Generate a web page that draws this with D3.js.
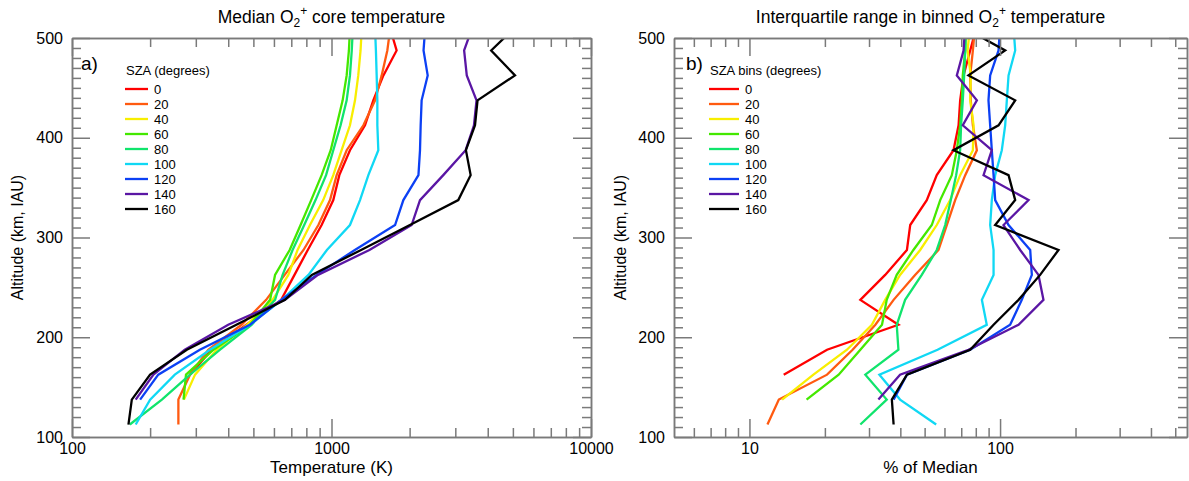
<!DOCTYPE html>
<html>
<head>
<meta charset="utf-8">
<script src="https://cdn.jsdelivr.net/npm/d3@7"></script>
<style>
  body { margin: 0; background: #fff; }
  text { font-family: "Liberation Sans", Arial, Helvetica, sans-serif; fill: #000; }
</style>
</head>
<body>
<svg id="chart" width="1189" height="481"></svg>
<script>
// altitude bin centres (km, IAU)
var altitude = [112.5, 137.5, 162.5, 187.5, 212.5, 237.5, 262.5, 287.5, 312.5,
  337.5, 362.5, 387.5, 412.5, 437.5, 462.5, 487.5, 512.5];
var szaBins = [0, 20, 40, 60, 80, 100, 120, 140, 160];
var colors = ['#ff0000', '#ff5a10', '#f8ee00', '#44e800', '#10e46c', '#10d8f4', '#0c40f4', '#5a16a4', '#000000'];

// a) median O2+ temperature (K)
var medT0   = [null, null, 285, 345, 470, 640, 720, 810, 916, 1016, 1072, 1178, 1346, 1449, 1585, 1782, 1670];
var medT20  = [257, 257, 285, 335, 450, 560, 660, 780, 890, 987, 1047, 1144, 1327, 1472, 1561, 1641, 1690];
var medT40  = [null, 270, 298, 361, 472, 593, 682, 740, 826, 929, 1016, 1094, 1178, 1232, 1268, 1294, 1310];
var medT60  = [null, 269, 275, 351, 485, 580, 606, 690, 760, 835, 916, 993, 1047, 1104, 1144, 1167, 1180];
var medT80  = [167, 222, 285, 372, 492, 606, 648, 708, 785, 868, 953, 1016, 1084, 1144, 1178, 1197, 1210];
var medT100 = [176, 200, 249, 340, 485, 643, 815, 960, 1178, 1288, 1387, 1515, 1502, 1502, 1493, 1483, 1470];
var medT120 = [null, 183, 215, 311, 485, 640, 877, 1230, 1758, 1892, 2163, 2193, 2206, 2225, 2348, 2263, 2300];
var medT140 = [null, 176, 206, 272, 400, 662, 887, 1400, 2036, 2193, 2696, 3288, 3540, 3621, 3321, 3244, 3510];
var medT160 = [165, 170, 200, 277, 430, 662, 840, 1300, 2005, 3080, 3437, 3296, 3573, 3654, 5094, 4124, 5190];

// b) interquartile range (% of median)
var iqr0   = [null, null, 13.7, 20.4, 39.3, 27.7, 34.8, 42.5, 43.8, 51.0, 55.9, 65.2, 68.3, 69.3, 71.5, 76.0, 80.8];
var iqr20  = [11.8, 13.1, 20.4, 25.8, 31.8, 37.6, 45.8, 56.8, 61.3, 66.2, 72.6, 80.8, 77.9, 76.4, 76.0, 77.9, 79.5];
var iqr40  = [null, 13.5, 18.0, 24.5, 30.8, 34.8, 39.9, 48.0, 55.9, 63.2, 69.3, 77.9, 78.4, 76.0, 76.4, 74.2, 76.0];
var iqr60  = [null, 16.9, 22.7, 27.7, 33.8, 35.3, 38.7, 45.1, 53.4, 57.7, 64.2, 67.2, 69.3, 70.4, 71.0, 72.6, 73.1];
var iqr80  = [27.7, 35.3, 29.0, 39.3, 38.7, 41.8, 48.7, 55.9, 60.4, 63.6, 66.8, 69.3, 69.9, 71.0, 71.9, 72.6, 73.1];
var iqr100 = [55.6, 39.9, 33.0, 56.3, 88.5, 84.6, 94.2, 94.2, 91.3, 92.7, 95.6, 101.6, 104.8, 106.4, 108.1, 114.9, 113];
var iqr120 = [null, 37.6, 42.5, 76.0, 109.7, 122.1, 133.9, 131.9, 108.1, 95.6, 94.2, 92.7, 91.3, 89.9, 91.3, 98.6, 100.1];
var iqr140 = [null, 32.7, 39.9, 74.8, 118.5, 149.0, 142.3, 120.3, 103.2, 129.9, 85.9, 92.7, 71.0, 80.8, 67.2, 71.5, 72.6];
var iqr160 = [37.6, 37.0, 42.5, 76.0, 94.2, 118.5, 144.5, 171.1, 95.6, 114.9, 108.1, 65.2, 98.6, 114.9, 74.8, 104.8, 69.3];

// tick values
var altMajor = [100, 200, 300, 400, 500];
var altMinor = d3.range(110, 500, 10).filter(function(d) { return d % 100 !== 0; });
var tempMajor = [100, 1000, 10000];
var tempMinor = [200, 300, 400, 500, 600, 700, 800, 900, 2000, 3000, 4000, 5000, 6000, 7000, 8000, 9000];
var pctMajor = [10, 100];
var pctMinor = [6, 7, 8, 9, 20, 30, 40, 50, 60, 70, 80, 90, 200, 300, 400, 500];

var axisColor = '#7a7a7a';
var svg = d3.select('#chart');
svg.append('rect').attr('width', 1189).attr('height', 481).attr('fill', '#fff');

var y = d3.scaleLinear().domain([100, 500]).range([437, 38]);

function panel(opt) {
  var x = d3.scaleLog().domain(opt.xDomain).range([opt.left, opt.right]);
  var g = svg.append('g');

  g.append('clipPath').attr('id', opt.id + '-clip')
    .append('rect')
    .attr('x', opt.left).attr('y', 38)
    .attr('width', opt.right - opt.left).attr('height', 437 - 38);

  // lines, first bin drawn first so later ones sit on top
  var line = d3.line()
    .defined(function(d) { return d[1] != null; })
    .x(function(d) { return x(d[1]); })
    .y(function(d) { return y(d[0]); });

  var lg = g.append('g').attr('clip-path', 'url(#' + opt.id + '-clip)');
  opt.series.forEach(function(vals, i) {
    lg.append('path')
      .datum(altitude.map(function(a, j) { return [a, vals[j]]; }))
      .attr('d', line)
      .attr('fill', 'none')
      .attr('stroke', colors[i])
      .attr('stroke-width', 2.3)
      .attr('stroke-linejoin', 'miter');
  });

  // axes, ticks pointing inward
  function styleAxis(sel) {
    sel.selectAll('path.domain').attr('stroke', axisColor).attr('stroke-width', 1.5);
    sel.selectAll('.tick line').attr('stroke', axisColor).attr('stroke-width', 1.5);
    sel.selectAll('.tick text').attr('font-size', 16).attr('fill', '#000')
      .attr('font-family', '"Liberation Sans", Arial, sans-serif');
  }
  var fmt = d3.format('d');

  g.append('g').attr('transform', 'translate(0,437)')
    .call(d3.axisBottom(x).tickValues(opt.xMinor).tickSizeInner(-9).tickSizeOuter(0).tickFormat(''))
    .call(styleAxis);
  g.append('g').attr('transform', 'translate(0,437)')
    .call(d3.axisBottom(x).tickValues(opt.xMajor).tickSizeInner(-18).tickSizeOuter(0).tickPadding(6).tickFormat(fmt))
    .call(styleAxis);
  g.append('g').attr('transform', 'translate(0,38)')
    .call(d3.axisTop(x).tickValues(opt.xMinor).tickSizeInner(-9).tickSizeOuter(0).tickFormat(''))
    .call(styleAxis);
  g.append('g').attr('transform', 'translate(0,38)')
    .call(d3.axisTop(x).tickValues(opt.xMajor).tickSizeInner(-18).tickSizeOuter(0).tickFormat(''))
    .call(styleAxis);

  g.append('g').attr('transform', 'translate(' + opt.left + ',0)')
    .call(d3.axisLeft(y).tickValues(altMinor).tickSizeInner(-9).tickSizeOuter(0).tickFormat(''))
    .call(styleAxis);
  g.append('g').attr('transform', 'translate(' + opt.left + ',0)')
    .call(d3.axisLeft(y).tickValues(altMajor).tickSizeInner(-18).tickSizeOuter(0).tickPadding(9).tickFormat(fmt))
    .call(styleAxis);
  g.append('g').attr('transform', 'translate(' + opt.right + ',0)')
    .call(d3.axisRight(y).tickValues(altMinor).tickSizeInner(-9).tickSizeOuter(0).tickFormat(''))
    .call(styleAxis);
  g.append('g').attr('transform', 'translate(' + opt.right + ',0)')
    .call(d3.axisRight(y).tickValues(altMajor).tickSizeInner(-18).tickSizeOuter(0).tickFormat(''))
    .call(styleAxis);

  var mid = (opt.left + opt.right) / 2;

  // title with O2+ sub/superscript
  var t = g.append('text').attr('x', mid).attr('y', 23)
    .attr('text-anchor', 'middle').attr('font-size', 17.5);
  t.append('tspan').text(opt.titleA);
  t.append('tspan').attr('font-size', 12).attr('dy', 4).text('2');
  t.append('tspan').attr('font-size', 12).attr('dy', -12).text('+');
  t.append('tspan').attr('dy', 8).text(opt.titleB);

  g.append('text').attr('x', mid).attr('y', 473)
    .attr('text-anchor', 'middle').attr('font-size', 17).text(opt.xLabel);

  g.append('text')
    .attr('transform', 'translate(' + opt.yLabelX + ',' + y(300) + ') rotate(-90)')
    .attr('text-anchor', 'middle').attr('font-size', 16).attr('dy', '0.35em')
    .text('Altitude (km, IAU)');

  // panel letter and legend
  g.append('text').attr('x', opt.left + opt.letterDx).attr('y', 70)
    .attr('font-size', 19).text(opt.letter);
  g.append('text').attr('x', opt.legX).attr('y', 75)
    .attr('font-size', 13).text(opt.legTitle);

  var leg = g.selectAll('g.legend').data(szaBins).enter().append('g').attr('class', 'legend')
    .attr('transform', function(d, i) { return 'translate(0,' + (89 + i * 15) + ')'; });
  leg.append('line')
    .attr('x1', opt.legX - 1).attr('x2', opt.legX - 1 + opt.legLen)
    .attr('stroke', function(d, i) { return colors[i]; })
    .attr('stroke-width', 2.3);
  leg.append('text')
    .attr('x', opt.legX + opt.legLen + 5).attr('dy', '0.35em')
    .attr('font-size', 13)
    .text(function(d) { return d; });
}

panel({
  id: 'a', left: 72, right: 591, xDomain: [100, 10000],
  xMajor: tempMajor, xMinor: tempMinor,
  series: [medT0, medT20, medT40, medT60, medT80, medT100, medT120, medT140, medT160],
  titleA: 'Median O', titleB: ' core temperature', xLabel: 'Temperature (K)',
  yLabelX: 17, letter: 'a)', letterDx: 9,
  legX: 126, legLen: 23, legTitle: 'SZA (degrees)'
});

panel({
  id: 'b', left: 674, right: 1187, xDomain: [5, 557],
  xMajor: pctMajor, xMinor: pctMinor,
  series: [iqr0, iqr20, iqr40, iqr60, iqr80, iqr100, iqr120, iqr140, iqr160],
  titleA: 'Interquartile range in binned O', titleB: ' temperature', xLabel: '% of Median',
  yLabelX: 620, letter: 'b)', letterDx: 12,
  legX: 710, legLen: 30, legTitle: 'SZA bins (degrees)'
});
</script>
</body>
</html>
